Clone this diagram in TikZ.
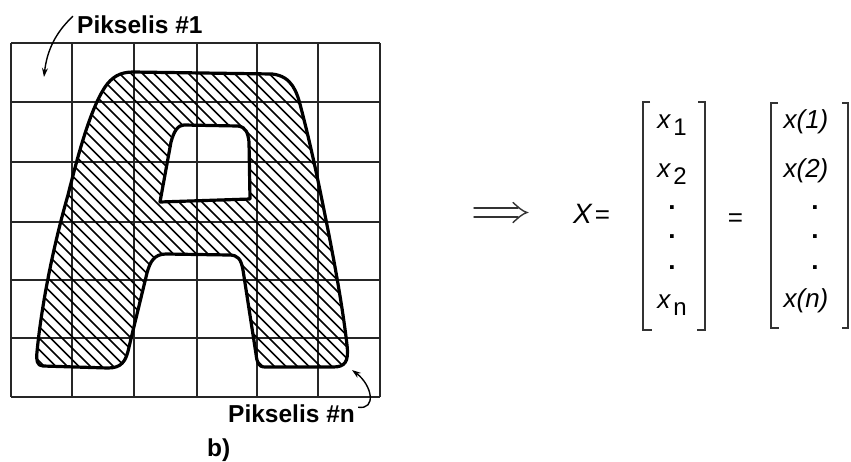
\documentclass[tikz,border=0pt]{standalone}
\usepackage{fontspec}
\setmainfont{Liberation Sans}
\usetikzlibrary{arrows.meta}
\newcommand{\outerA}{(133,72) -- (272,74) .. controls (292,76) and (297,92) .. (301,108)
 .. controls (312,150) and (320,190) .. (327,225)
 .. controls (335,265) and (343,310) .. (347,345)
 .. controls (349,362) and (345,367) .. (333,367)
 -- (265,367) .. controls (258,367) and (257,362) .. (256,354)
 -- (243,270) .. controls (241,259) and (238,255) .. (229,255)
 -- (166,254) .. controls (154,254) and (150,262) .. (147,273)
 -- (129,347) .. controls (126,362) and (121,368) .. (108,368)
 -- (43,366) .. controls (37,366) and (36,360) .. (37,352)
 .. controls (42,300) and (55,240) .. (68,195)
 .. controls (78,155) and (90,110) .. (105,87)
 .. controls (112,77) and (120,72) .. (133,72) -- cycle}
\newcommand{\holeA}{(184,125) -- (238,126) .. controls (246,127) and (248,133) .. (249,142)
 -- (250,199) -- (160,202) -- (171,142)
 .. controls (174,131) and (178,125) .. (184,125) -- cycle}
\newcommand{\subsc}[1]{\raisebox{-7pt}{\fontsize{24}{26}\selectfont\upshape #1}}
\tikzset{
  gridline/.style={line width=1.8pt, black!85},
  hatchline/.style={line width=1.5pt, black},
  outline/.style={line width=3.2pt, black, line join=round},
  lbl/.style={font=\fontsize{24.5}{27}\selectfont\bfseries, inner sep=0pt},
  mtxt/.style={font=\fontsize{26}{28}\selectfont, inner sep=0pt, anchor=base},
  dotx/.style={font=\fontsize{26}{28}\selectfont\bfseries, inner sep=0pt, anchor=center},
  brk/.style={line width=1.5pt, black!80},
  ptr/.style={line width=1.4pt, -{Stealth[length=9pt,width=6pt]}},
  implies/.style={line width=1.4pt, black!80, line cap=round},
}
\begin{document}
\begin{tikzpicture}[x=1pt,y=-1pt]
\useasboundingbox (0,0) rectangle (851,461);
% grid
\foreach \gx in {11,72,134,197,257,318,380} \draw[gridline] (\gx,43) -- (\gx,397);
\foreach \gy in {43,102,162,222,280,338,397} \draw[gridline] (11,\gy) -- (380,\gy);
% hatching
\begin{scope}[even odd rule]
  \clip \outerA \holeA;
  \foreach \c in {-460,-448.5,...,400} \draw[hatchline] (\c,0) -- (\c+460,460);
\end{scope}
\draw[outline] \outerA;
\draw[outline] \holeA;
% labels
\node[lbl, anchor=base west] (p1) at (77,33) {Pikselis \#1};
\node[lbl, anchor=base west] (pn) at (228,422) {Pikselis \#n};
\node[lbl, anchor=base west] (b) at (207,456) {b)};
\coordinate (t1) at (44,77);
\coordinate (tn) at (352,370);
\draw[ptr] (p1.west) ++(-4,-8) coordinate (s1) .. controls (56,32) and (47,50) .. (t1);
\draw[ptr] (pn.east) ++(3,-6) coordinate (sn) .. controls (377,410) and (372,385) .. (tn);
% implies arrow
\coordinate (ia) at (474,212.5);
\coordinate (ib) at (527,212.5);
\draw[implies] (ia) ++(0,-4.5) -- ++(44,0);
\draw[implies] (ia) ++(0,4.5) -- ++(44,0);
\draw[implies] (ib) ++(-14,-10) .. controls (518,207) and (522,211) .. (ib)
  .. controls (522,214) and (518,218) .. ++(-14,10);
% X =
\node[mtxt, anchor=base west] (X) at (573,223) {{\fontsize{28}{30}\selectfont\itshape X}\hspace{3pt}=};
% first matrix
\draw[brk] (650,102) -- (643,102) -- (643,330) -- (652,330);
\draw[brk] (698,102) -- (705,102) -- (705,330) -- (697,330);
\node[mtxt] (x1) at (672,128) {\itshape x\hspace{3pt}\subsc{1}};
\node[mtxt] (x2) at (672,177) {\itshape x\hspace{3pt}\subsc{2}};
\node[dotx] (d1) at (672,208) {.};
\node[dotx] (d2) at (672,237) {.};
\node[dotx] (d3) at (672,268) {.};
\node[mtxt] (xn) at (672,308) {\itshape x\hspace{3pt}\subsc{n}};
% equals
\node[mtxt] (eq) at (735.5,226) {=};
% second matrix
\draw[brk] (778,103) -- (771,103) -- (771,328) -- (779,328);
\draw[brk] (842,103) -- (848,103) -- (848,328) -- (842,328);
\node[mtxt] (y1) at (806,128) {\itshape x(1)};
\node[mtxt] (y2) at (806,177) {\itshape x(2)};
\node[dotx] (e1) at (815,208) {.};
\node[dotx] (e2) at (815,237) {.};
\node[dotx] (e3) at (815,268) {.};
\node[mtxt] (yn) at (806,307) {\itshape x(n)};
\end{tikzpicture}
\end{document}
